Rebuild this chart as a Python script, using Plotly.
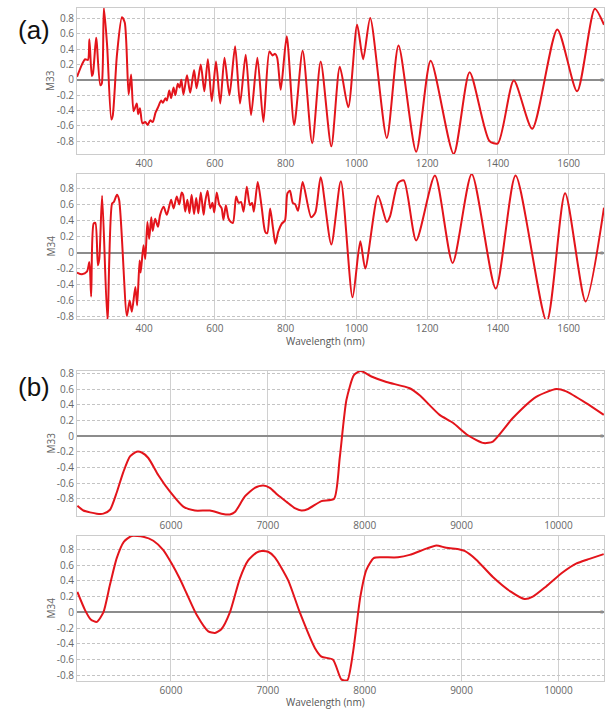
import plotly.graph_objects as go

# ---------------- data ----------------
A_M33_NM = [210, 224, 233, 241, 245, 252, 255, 264, 266, 276, 280, 286, 295, 307, 311, 323, 337, 345,
            356, 363, 370, 379, 383, 388, 395, 403, 410, 417, 424, 432, 439, 448, 453, 460, 464, 471,
            476, 483, 488, 495, 500, 505, 511, 521, 530, 541, 548, 560, 570, 580, 591, 603, 615, 627,
            641, 657, 671, 687, 702, 720, 737, 754, 763, 770, 776, 786, 803, 824, 848, 875, 899, 929,
            953, 977, 1002, 1019, 1039, 1086, 1119, 1169, 1210, 1275, 1320, 1376, 1400, 1445, 1497,
            1568, 1624, 1674, 1700]
A_M33 = [0.04, 0.2, 0.27, 0.26, 0.53, 0.05, 0.08, 0.55, 0.48, -0.07, -0.05, 0.94, 0.46, -0.52, -0.47,
         0.33, 0.82, 0.75, -0.19, 0.07, -0.41, -0.31, -0.45, -0.37, -0.57, -0.55, -0.59, -0.53, -0.55,
         -0.43, -0.36, -0.27, -0.3, -0.24, -0.27, -0.14, -0.24, -0.1, -0.2, -0.05, -0.1, 0.0, -0.19,
         0.06, -0.17, 0.13, -0.11, 0.2, -0.15, 0.27, -0.28, 0.24, -0.31, 0.29, -0.2, 0.44, -0.31, 0.33,
         -0.46, 0.29, -0.55, 0.37, 0.32, 0.34, 0.29, -0.13, 0.57, -0.59, 0.38, -0.83, 0.24, -0.87,
         0.17, -0.36, 0.72, 0.27, 0.81, -0.76, 0.45, -0.94, 0.25, -0.97, 0.1, -0.8, -0.83, -0.01,
         -0.64, 0.66, -0.15, 0.93, 0.72]

A_M34_NM = [210, 224, 238, 245, 250, 257, 262, 269, 273, 281, 296, 309, 314, 323, 329, 351, 359, 365,
            375, 380, 387, 390, 398, 403, 409, 414, 420, 424, 431, 439, 445, 455, 464, 476, 483, 492,
            499, 506, 510, 516, 522, 528, 534, 541, 547, 553, 560, 568, 572, 579, 587, 593, 598, 605,
            612, 619, 624, 631, 638, 645, 651, 660, 667, 674, 681, 690, 699, 705, 710, 721, 732, 742,
            748, 756, 764, 771, 779, 789, 798, 805, 812, 820, 827, 835, 848, 872, 884, 899, 929, 956,
            989, 1011, 1025, 1061, 1086, 1095, 1118, 1134, 1169, 1222, 1272, 1326, 1394, 1450, 1538,
            1590, 1648, 1700]
A_M34 = [-0.25, -0.27, -0.24, -0.12, -0.55, 0.36, 0.37, -0.16, -0.08, 0.71, -0.84, 0.61, 0.63, 0.72,
         0.66, -0.79, -0.6, -0.74, -0.43, -0.66, -0.1, -0.25, 0.09, -0.08, 0.38, 0.17, 0.44, 0.27, 0.42,
         0.32, 0.47, 0.57, 0.47, 0.66, 0.55, 0.7, 0.6, 0.75, 0.72, 0.51, 0.66, 0.49, 0.72, 0.48, 0.68,
         0.49, 0.75, 0.47, 0.62, 0.77, 0.55, 0.62, 0.5, 0.75, 0.6, 0.55, 0.41, 0.59, 0.43, 0.38, 0.37,
         0.7, 0.62, 0.63, 0.51, 0.82, 0.59, 0.62, 0.51, 0.88, 0.57, 0.26, 0.24, 0.55, 0.31, 0.11, 0.26,
         0.36, 0.4, 0.74, 0.77, 0.62, 0.6, 0.52, 0.88, 0.44, 0.5, 0.94, 0.1, 0.89, -0.56, 0.14, -0.2,
         0.71, 0.38, 0.45, 0.87, 0.9, 0.15, 0.96, -0.13, 0.98, -0.45, 0.96, -0.86, 0.74, -0.61, 0.56]

B_M33_NM = [5034, 5096, 5234, 5302, 5371, 5440, 5508, 5577, 5646, 5698, 5766, 5870, 5990, 6127, 6247,
            6402, 6522, 6608, 6660, 6763, 6866, 6952, 7021, 7100, 7193, 7278, 7347, 7416, 7553, 7684,
            7742, 7811, 7890, 7959, 8069, 8224, 8464, 8567, 8773, 8910, 9065, 9230, 9323, 9529, 9770,
            9977, 10080, 10286, 10468]
B_M33 = [-0.89, -0.95, -0.99, -0.99, -0.94, -0.72, -0.46, -0.26, -0.2, -0.21, -0.28, -0.5, -0.71,
         -0.9, -0.95, -0.95, -0.99, -1.0, -0.97, -0.77, -0.66, -0.63, -0.66, -0.75, -0.84, -0.92,
         -0.95, -0.93, -0.83, -0.8, -0.28, 0.46, 0.78, 0.83, 0.76, 0.69, 0.61, 0.52, 0.27, 0.17, 0.01,
         -0.09, -0.07, 0.23, 0.5, 0.6, 0.57, 0.42, 0.27]

B_M34_NM = [5034, 5113, 5172, 5234, 5302, 5370, 5440, 5515, 5594, 5714, 5818, 5921, 6007, 6090, 6162,
            6265, 6385, 6454, 6522, 6608, 6711, 6797, 6883, 6935, 7003, 7072, 7209, 7330, 7485, 7553,
            7673, 7759, 7821, 7880, 7955, 8017, 8093, 8172, 8344, 8464, 8636, 8739, 8842, 8979, 9031,
            9151, 9323, 9512, 9649, 9735, 9873, 10045, 10182, 10320, 10467]
B_M34 = [0.26, 0.03, -0.09, -0.12, 0.0, 0.35, 0.69, 0.9, 0.97, 0.96, 0.91, 0.79, 0.62, 0.43, 0.24,
         -0.03, -0.24, -0.26, -0.21, 0.0, 0.43, 0.66, 0.76, 0.78, 0.77, 0.7, 0.41, 0.0, -0.45, -0.56,
         -0.6, -0.85, -0.86, -0.5, 0.2, 0.54, 0.69, 0.7, 0.7, 0.73, 0.81, 0.85, 0.82, 0.8, 0.78, 0.67,
         0.45, 0.26, 0.17, 0.2, 0.33, 0.51, 0.62, 0.68, 0.74]

Y_TICKS = [-0.8, -0.6, -0.4, -0.2, 0, 0.2, 0.4, 0.6, 0.8]
Y_TICKTEXT = ["-0.8", "-0.6", "-0.4", "-0.2", "0", "0.2", "0.4", "0.6", "0.8"]
A_XTICKS = [400, 600, 800, 1000, 1200, 1400, 1600]
B_XTICKS = [6000, 7000, 8000, 9000, 10000]

# ---------------- layout helpers ----------------
W, H = 609, 709
RED = "#e3141b"
TICKFONT = dict(family="Open Sans, sans-serif", size=10, color="#666666")

def fx(px):
    return px / W

def fy(py):
    return 1 - py / H

panels = [
    # (x data, y data, top px, bottom px, xrange, yrange, xticks, ytitle, smoothing)
    (A_M33_NM, A_M33, 8, 154, [210, 1700], [-0.97, 0.94], A_XTICKS, "M33", 0.7),
    (A_M34_NM, A_M34, 174, 319, [210, 1700], [-0.83, 0.98], A_XTICKS, "M34", 0.7),
    (B_M33_NM, B_M33, 371, 516, [5030, 10470], [-1.02, 0.83], B_XTICKS, "M33", 0.6),
    (B_M34_NM, B_M34, 536, 681, [5030, 10470], [-0.87, 0.97], B_XTICKS, "M34", 0.6),
]

fig = go.Figure()
layout = dict(
    width=W, height=H,
    margin=dict(l=0, r=0, t=0, b=0, autoexpand=False),
    paper_bgcolor="white", plot_bgcolor="white",
    showlegend=False,
)
annotations = []
XL, XR = 77, 604

for i, (xd, yd, top, bot, xr, yr, xt, ytitle, sm) in enumerate(panels):
    n = "" if i == 0 else str(i + 1)
    fig.add_trace(go.Scatter(
        x=xd, y=yd, xaxis="x" + n, yaxis="y" + n, mode="lines",
        line=dict(color=RED, width=2, shape="spline", smoothing=sm),
        hoverinfo="skip", cliponaxis=True,
    ))
    layout["xaxis" + n] = dict(
        domain=[fx(XL), fx(XR)], anchor="y" + n, range=xr,
        tickvals=xt, ticktext=[str(v) for v in xt], tickfont=TICKFONT, ticks="",
        showgrid=True, gridcolor="#d0d0d0", gridwidth=1,
        showline=True, linecolor="#cccccc", linewidth=1, mirror=True,
        zeroline=False,
    )
    layout["yaxis" + n] = dict(
        domain=[fy(bot), fy(top)], anchor="x" + n, range=yr,
        tickvals=Y_TICKS, ticktext=Y_TICKTEXT, tickfont=TICKFONT, ticks="",
        showgrid=True, gridcolor="#c4c4c4", gridwidth=1, griddash="3px,2px",
        showline=True, linecolor="#cccccc", linewidth=1, mirror=True,
        zeroline=True, zerolinecolor="#8c8c8c", zerolinewidth=1.5,
    )
    # y-axis title
    annotations.append(dict(
        x=fx(50), y=fy((top + bot) / 2), xref="paper", yref="paper",
        text=ytitle, textangle=-90, showarrow=False,
        font=dict(family="Open Sans, sans-serif", size=10, color="#666666"),
        xanchor="center", yanchor="middle",
    ))
    # small zero marker at the right end of the zero line
    y0 = yr[1] / (yr[1] - yr[0])
    zero_py = top + (bot - top) * y0
    annotations.append(dict(
        x=fx(602), y=fy(zero_py), xref="paper", yref="paper",
        text="0", showarrow=False,
        font=dict(family="Open Sans, sans-serif", size=6, color="#888888"),
        xanchor="center", yanchor="middle",
    ))

for ty in (341, 702):
    annotations.append(dict(
        x=fx(325), y=fy(ty), xref="paper", yref="paper",
        text="Wavelength (nm)", showarrow=False,
        font=dict(family="Open Sans, sans-serif", size=10, color="#555555"),
        xanchor="center", yanchor="middle",
    ))

for lab, ty in (("(a)", 30), ("(b)", 387)):
    annotations.append(dict(
        x=fx(16), y=fy(ty), xref="paper", yref="paper",
        text=lab, showarrow=False,
        font=dict(family="Liberation Sans, Arial, sans-serif", size=26, color="#111111"),
        xanchor="left", yanchor="middle",
    ))

layout["annotations"] = annotations
fig.update_layout(**layout)
fig.write_html("out.html")
